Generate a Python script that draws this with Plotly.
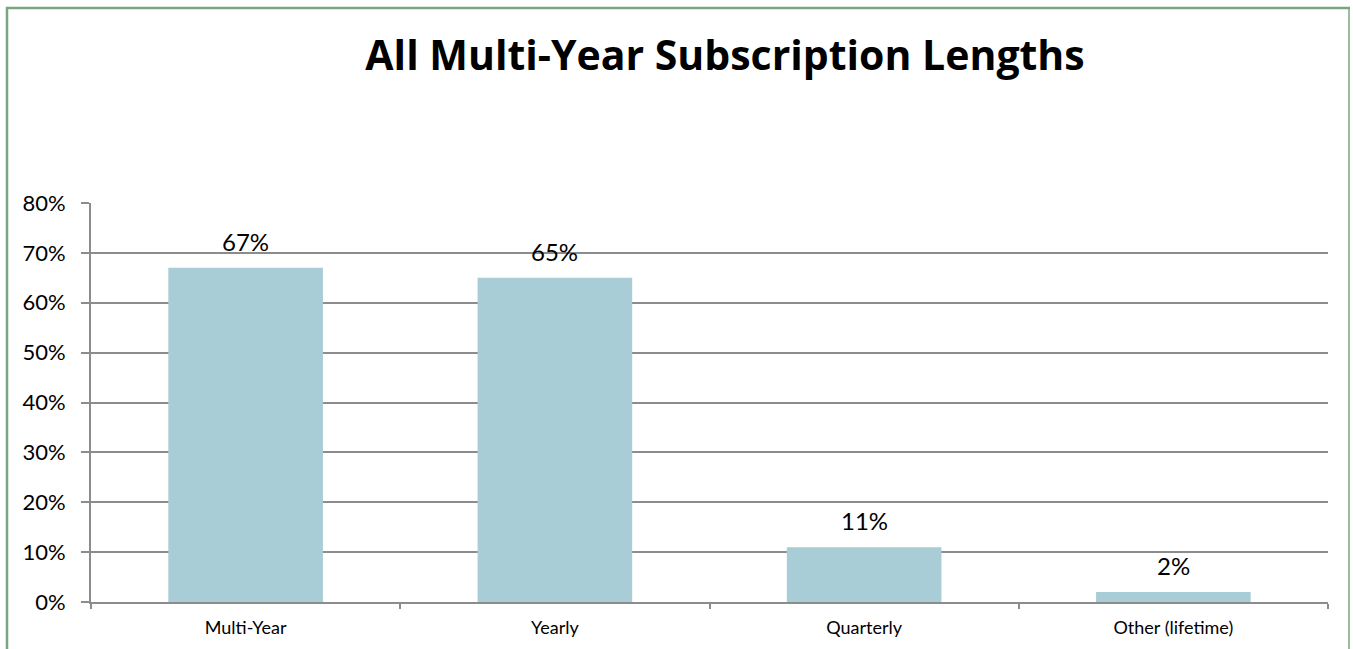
import plotly.graph_objects as go

categories = ["Multi-Year", "Yearly", "Quarterly", "Other (lifetime)"]
values = [0.67, 0.65, 0.11, 0.02]
labels = ["67%", "65%", "11%", "2%"]
y_ticks = [0, 0.1, 0.2, 0.3, 0.4, 0.5, 0.6, 0.7, 0.8]
y_ticklabels = ["0%", "10%", "20%", "30%", "40%", "50%", "60%", "70%", "80%"]

W, H = 1353, 649
L, R, T, B = 91, 25, 203, 47
pw, ph = W - L - R, H - T - B

def px(x):
    return (x - L) / pw

def py(y):
    return (H - B - y) / ph

FONT = "Lato, 'Open Sans', sans-serif"
GRID = "#8c8c8c"
BORDER = "#7aa67d"

fig = go.Figure(go.Bar(
    x=categories, y=values,
    marker=dict(color="#a9cdd6", line=dict(width=0)),
    cliponaxis=False,
))

for c, v, t in zip(categories, values, labels):
    fig.add_annotation(x=c, y=v, text=t, showarrow=False, yanchor="bottom", yshift=10,
                       font=dict(size=24, family=FONT, color="black"))

fig.update_layout(
    width=W, height=H,
    margin=dict(l=L, r=R, t=T, b=B, autoexpand=False),
    paper_bgcolor="white", plot_bgcolor="white",
    bargap=0.5, showlegend=False,
    font=dict(family=FONT, color="black"),
    title=dict(text="<b>All Multi-Year Subscription Lengths</b>",
               x=725 / W, xanchor="center", y=1 - 56 / H, yanchor="middle",
               yref="container", xref="container",
               font=dict(size=41, family="'Open Sans', sans-serif", color="black")),
    xaxis=dict(type="category", showgrid=False, showline=True, linecolor=GRID, linewidth=2,
               ticks="outside", tickson="boundaries", ticklen=5, tickcolor=GRID, tickwidth=1.5,
               ticklabelstandoff=8,
               tickfont=dict(size=18, family=FONT, color="black"), zeroline=False),
    yaxis=dict(range=[0, 0.8], tickvals=y_ticks, ticktext=y_ticklabels,
               showgrid=True, gridcolor=GRID, gridwidth=2, showline=True, linecolor=GRID, linewidth=2,
               ticks="outside", ticklen=8, tickcolor=GRID, tickwidth=2,
               ticklabelstandoff=11,
               tickfont=dict(size=22, family=FONT, color="black"), zeroline=False),
    shapes=[
        dict(type="line", xref="paper", yref="paper", x0=px(7), x1=px(7), y0=py(7), y1=py(660),
             line=dict(color=BORDER, width=2.5)),
        dict(type="line", xref="paper", yref="paper", x0=px(6), x1=px(1350), y0=py(8), y1=py(8),
             line=dict(color=BORDER, width=2.5)),
        dict(type="line", xref="paper", yref="paper", x0=px(1349), x1=px(1349), y0=py(7), y1=py(660),
             line=dict(color=BORDER, width=1.5)),
    ],
)

fig.write_html("out.html")
